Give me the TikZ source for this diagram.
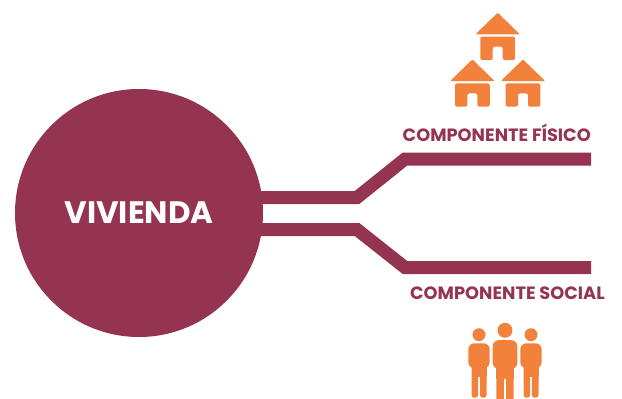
\documentclass[tikz,border=0pt]{standalone}
\usepackage{fontspec}
\setmainfont{Poppins}
\definecolor{vino}{HTML}{943450}
\definecolor{naranja}{HTML}{F2813B}
\tikzset{
  rama/.style={draw=vino,line width=13pt,line join=miter},
  rotulo/.style={text=vino,font=\fontsize{17.8}{18}\bfseries\selectfont,inner sep=0pt},
  house/.pic={
    \fill[naranja,rounded corners=1pt] (0,0) -- (22.2,21.6) -- (-22.2,21.6) -- cycle;
    \fill[naranja,rounded corners=2pt] (-17.4,24) -- (17.4,24) -- (17.4,47.3) -- (5,47.3)
      -- (5,34) -- (-5,34) -- (-5,47.3) -- (-17.4,47.3) -- cycle;
  },
  person/.pic={
    \fill[naranja] (0,0) circle (6.5);
    \fill[naranja,rounded corners=6pt] (-10.7,8.6) rectangle (10.7,33.5);
    \foreach\s in{-1,1}{
      \fill[naranja,rounded corners=2.5pt] (\s*1,25) rectangle (\s*7.5,63);
    }
    \fill[naranja] (-7.5,25) rectangle (7.5,42.5);
  }
}
\begin{document}
\begin{tikzpicture}[x=1pt,y=-1pt]
\useasboundingbox (0,0) rectangle (622,399);
\node[circle,fill=vino,minimum size=248pt,inner sep=0pt,text=white,
  font=\fontsize{31}{31}\bfseries\selectfont] (vivienda) at (139,213) {VIVIENDA};

\coordinate (a1) at (357,197.5);
\coordinate (a2) at (405,159);
\coordinate (a3) at (591,159);
\coordinate (b1) at (357,229.5);
\coordinate (b2) at (405,267.5);
\coordinate (b3) at (591,267.5);
\draw[rama] ([xshift=-4pt]vivienda.east |- a1) -- (a1) -- (a2) -- (a3);
\draw[rama] ([xshift=-4pt]vivienda.east |- b1) -- (b1) -- (b2) -- (b3);

\node[rotulo,anchor=base east] (fisico) at (591,141.5) {COMPONENTE FÍSICO};
\node[rotulo,anchor=base east] (social) at (605,299) {COMPONENTE SOCIAL};

\foreach\x/\y in{497.7/12.7,472.4/59.4,523/59.4}{
  \pic at (\x,\y) {house};
}
\pic at (479,334.7) {person};
\pic at (531,334.7) {person};
\pic[scale=1.15] at (505,330.3) {person};
\end{tikzpicture}
\end{document}
